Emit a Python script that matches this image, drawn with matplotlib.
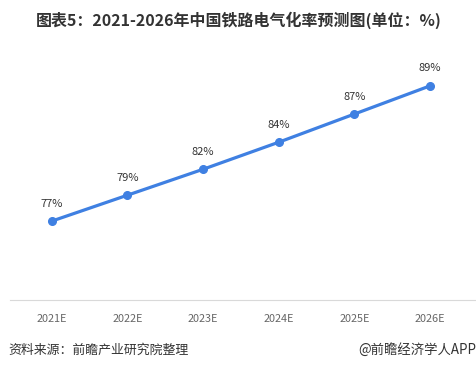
import matplotlib.pyplot as plt

plt.rcParams['font.family'] = ['Noto Sans CJK SC', 'DejaVu Sans']

years = ["2021E", "2022E", "2023E", "2024E", "2025E", "2026E"]
rates = [77.0, 79.3, 81.6, 84.0, 86.5, 89.0]
labels = ["77%", "79%", "82%", "84%", "87%", "89%"]

fig = plt.figure(figsize=(4.77, 3.70), dpi=100)
ax = fig.add_axes([14 / 477, 70 / 370, 454 / 477, 248 / 370])

x = list(range(len(years)))
ax.plot(x, rates, color="#3f80e2", linewidth=2.3, marker="o", markersize=5.5,
        solid_capstyle="round")
for xi, v, lab in zip(x, rates, labels):
    ax.annotate(lab, (xi, v), xytext=(0, 9), textcoords="offset points",
                ha="center", va="bottom", fontsize=8, color="#333333")

ax.set_xlim(-0.5, 5.5)
ax.set_ylim(70, 92)
ax.set_xticks(x)
ax.set_xticklabels(years, fontsize=7.8, color="#666666")
ax.set_yticks([])
ax.tick_params(axis="x", length=0, pad=10)
for side in ["top", "right", "left"]:
    ax.spines[side].set_visible(False)
ax.spines["bottom"].set_color("#d9d9d9")
ax.spines["bottom"].set_bounds(-0.55, 5.6)
ax.spines["bottom"].set_clip_on(False)

fig.text(0.5, 1 - 20 / 370, "图表5：2021-2026年中国铁路电气化率预测图(单位：%)",
         ha="center", va="center", fontsize=11.5, fontweight="bold", color="#333333")
fig.text(8 / 477, 1 - 350 / 370, "资料来源：前瞻产业研究院整理",
         ha="left", va="center", fontsize=9.3, color="#333333")
fig.text(476 / 477, 1 - 350 / 370, "@前瞻经济学人APP",
         ha="right", va="center", fontsize=9.6, color="#333333")

fig.savefig("out.png", dpi=100)
